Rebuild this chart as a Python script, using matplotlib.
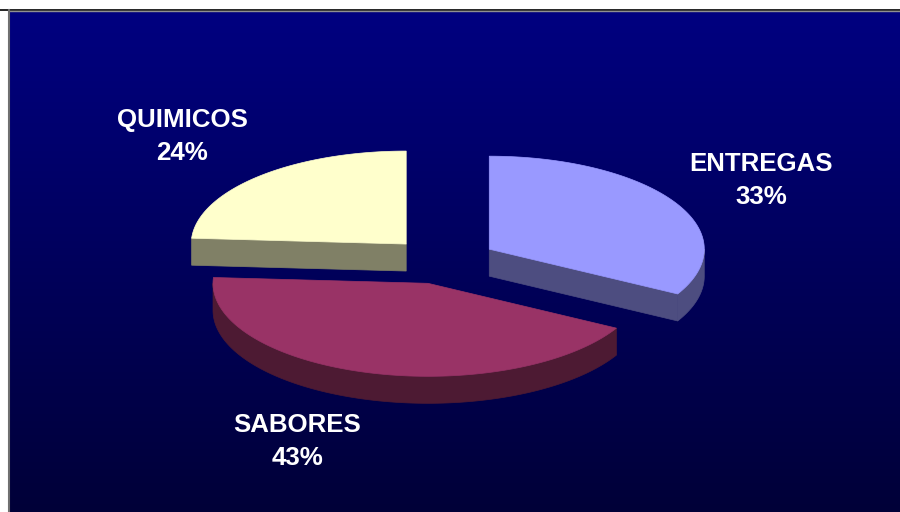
import numpy as np
import matplotlib.pyplot as plt
from matplotlib.patches import Polygon

labels = ['ENTREGAS', 'SABORES', 'QUIMICOS']
shares = [33, 43, 24]
top_colors = ['#9999FF', '#993366', '#FFFFCC']
side_colors = ['#4D4D80', '#4D1A33', '#808066']

W, H = 900, 512
cx, cy = 443, 261      # pie centre (pixels)
rx, ry = 215, 93       # ellipse radii
depth = 27             # slab thickness
explode = 0.25         # offset of every slice, fraction of radius
# label anchors: centre x, baseline of first line
label_xy = [(761, 171), (297, 432), (182, 127)]

fig = plt.figure(figsize=(9, 5.12), dpi=100)
fig.patch.set_facecolor('white')
ax = fig.add_axes([0, 0, 1, 1])

# plot area: navy fading darker to the bottom
g = np.linspace(0, 1, 256)[:, None, None]
c_top = np.array([0, 0, 128]) / 255
c_bot = np.array([0, 0, 56]) / 255
img = c_top + (c_bot - c_top) * g
img = np.repeat(img, 2, axis=1)
ax.imshow(img, extent=(10, W, H, 11), aspect='auto', zorder=0, interpolation='bilinear')
ax.plot([0, W], [9.5, 9.5], color='black', lw=1.2, zorder=1)
ax.plot([10, W], [10.8, 10.8], color='#909090', lw=1, zorder=1)
ax.plot([9, 9], [10, H], color='#707070', lw=1.5, zorder=1)

ax.set_xlim(0, W)
ax.set_ylim(H, 0)
ax.axis('off')

fr = np.array(shares) / sum(shares)
bounds = np.radians(90 - 360 * np.concatenate([[0], np.cumsum(fr)]))

slices = []
for i in range(len(shares)):
    t1, t2 = bounds[i + 1], bounds[i]
    mid = (t1 + t2) / 2
    ox = cx + explode * rx * np.cos(mid)
    oy = cy - explode * ry * np.sin(mid)
    slices.append((oy, i, t1, t2, ox))


def pts(ox, oy, t, dz=0.0):
    return np.column_stack([ox + rx * np.cos(t), oy - ry * np.sin(t) + dz])


# back slices first
z = 2
for oy, i, t1, t2, ox in sorted(slices):
    side = side_colors[i]
    # radial walls facing the viewer
    for t, vis in ((t1, np.cos(t1) > 1e-6), (t2, np.cos(t2) < -1e-6)):
        if vis:
            e = pts(ox, oy, np.array([t]))[0]
            poly = [(ox, oy), tuple(e), (e[0], e[1] + depth), (ox, oy + depth)]
            ax.add_patch(Polygon(poly, closed=True, fc=side, ec=side, lw=0.5, zorder=z))
    # outer rim on the front half
    for k in range(-1, 3):
        lo = max(t1, -np.pi + 2 * np.pi * k)
        hi = min(t2, 2 * np.pi * k)
        if hi > lo:
            t = np.linspace(lo, hi, 200)
            upper = pts(ox, oy, t)
            lower = pts(ox, oy, t[::-1], depth)
            ax.add_patch(Polygon(np.vstack([upper, lower]), closed=True,
                                 fc=side, ec=side, lw=0.5, zorder=z))
    # top face
    t = np.linspace(t1, t2, 300)
    face = np.vstack([[ox, oy], pts(ox, oy, t)])
    ax.add_patch(Polygon(face, closed=True, fc=top_colors[i], ec=top_colors[i],
                         lw=0.5, zorder=z + 1))
    z += 2

for i, name in enumerate(labels):
    x, y = label_xy[i]
    for j, line in enumerate([name, f'{shares[i]}%']):
        ax.text(x, y + 33 * j, line, color='white', fontsize=18.6, fontweight='bold',
                family='Liberation Sans', ha='center', va='baseline', zorder=20)

fig.savefig('out.png', dpi=100, facecolor=fig.get_facecolor())
